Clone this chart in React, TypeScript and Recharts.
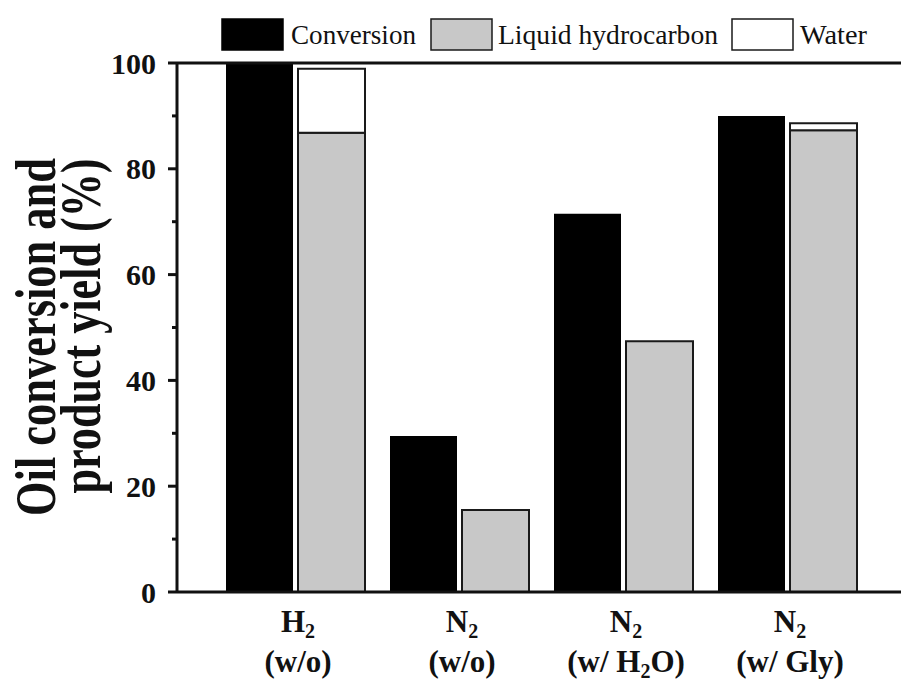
import React from 'react';
import { BarChart, Bar, XAxis, YAxis, ReferenceLine, Legend } from 'recharts';

// categories and tick labels
const categories = ['H2 (w/o)', 'N2 (w/o)', 'N2 (w/ H2O)', 'N2 (w/ Gly)'];
const gasLabels = ['H2', 'N2', 'N2', 'N2'];
const conditionLabels = ['(w/o)', '(w/o)', '(w/ H2O)', '(w/ Gly)'];

// series values (%)
const conversion = [100, 29.5, 71.5, 90.0];
const liquidHydrocarbon = [86.8, 15.5, 47.4, 87.3];
const water = [12.1, 0, 0, 1.3];

const yTicks = [0, 10, 20, 30, 40, 50, 60, 70, 80, 90, 100];
const seriesNames = ['Conversion', 'Liquid hydrocarbon', 'Water'];

const data = categories.map((category, i) => ({
  category,
  conversion: conversion[i],
  liquid: liquidHydrocarbon[i],
  water: water[i],
}));

const FONT = '"Liberation Serif", "Times New Roman", serif';
const INK = '#111';

// turns digits into subscripts (H2 -> H₂)
const withSubscripts = (s: string) => {
  const parts = s.split(/(\d)/).filter((p) => p !== '');
  let lowered = false;
  return parts.map((part, i) => {
    const isDigit = /^\d$/.test(part);
    let dy: number | undefined;
    if (isDigit && !lowered) {
      dy = 6;
      lowered = true;
    } else if (!isDigit && lowered) {
      dy = -6;
      lowered = false;
    }
    return (
      <tspan key={i} dy={dy} fontSize={isDigit ? 20 : undefined}>
        {part}
      </tspan>
    );
  });
};

const XTick = (props: any) => {
  const { x, y, payload } = props;
  const idx = categories.indexOf(payload.value);
  const common = {
    x: x + 3,
    textAnchor: 'middle' as const,
    fontFamily: FONT,
    fontWeight: 'bold',
    fontSize: 31,
    fill: INK,
  };
  return (
    <g>
      <text {...common} y={y + 40}>
        {withSubscripts(gasLabels[idx])}
      </text>
      <text {...common} y={y + 80}>
        {withSubscripts(conditionLabels[idx])}
      </text>
    </g>
  );
};

const YTick = (props: any) => {
  const { x, y, payload } = props;
  const major = payload.value % 20 === 0;
  return (
    <g>
      <line
        x1={major ? x + 9 : x + 13}
        x2={x + 18}
        y1={y}
        y2={y}
        stroke={INK}
        strokeWidth={3}
      />
      {major && (
        <text
          x={x - 3}
          y={y}
          dy="0.35em"
          textAnchor="end"
          fontFamily={FONT}
          fontWeight="bold"
          fontSize={30}
          fill={INK}
        >
          {payload.value}
        </text>
      )}
    </g>
  );
};

const YTitle = () => (
  <g fontFamily={FONT} fontWeight="bold" fontSize={58} fill={INK}>
    <text
      transform="translate(55,337) rotate(-90)"
      textAnchor="middle"
      textLength={358}
      lengthAdjust="spacingAndGlyphs"
    >
      Oil conversion and
    </text>
    <text
      transform="translate(100,326) rotate(-90)"
      textAnchor="middle"
      textLength={335}
      lengthAdjust="spacingAndGlyphs"
    >
      product yield (%)
    </text>
  </g>
);

const legendItems = [
  { fill: '#000', stroke: '#000', box: 222, text: 291, len: 125 },
  { fill: '#c8c8c8', stroke: '#1a1a1a', box: 431, text: 498, len: 220 },
  { fill: '#fff', stroke: '#1a1a1a', box: 732, text: 800, len: 67 },
];

const LegendContent = () => (
  <svg width={901} height={60}>
    {legendItems.map((item, i) => (
      <g key={seriesNames[i]}>
        <rect x={item.box} y={19} width={61} height={31} fill={item.fill} stroke={item.stroke} strokeWidth={1.5} />
        <text
          x={item.text}
          y={44}
          fontFamily={FONT}
          fontSize={27}
          fill={INK}
          textLength={item.len}
          lengthAdjust="spacingAndGlyphs"
        >
          {seriesNames[i]}
        </text>
      </g>
    ))}
  </svg>
);

export default function App() {
  return (
    <div
      style={{
        position: 'absolute',
        left: 0,
        top: 0,
        width: 901,
        height: 682,
        overflow: 'hidden',
        background: '#fff',
      }}
    >
      <BarChart
        width={910}
        height={682}
        data={data}
        margin={{ top: 63, right: 0, bottom: 0, left: 0 }}
        barGap={5}
        barSize={67}
      >
        <XAxis
          dataKey="category"
          height={90}
          padding={{ left: 36, right: 41 }}
          axisLine={{ stroke: INK, strokeWidth: 3 }}
          tickLine={false}
          tickSize={0}
          tickMargin={0}
          tick={<XTick />}
          interval={0}
        />
        <YAxis
          width={177}
          domain={[0, 100]}
          ticks={yTicks}
          interval={0}
          axisLine={{ stroke: INK, strokeWidth: 3 }}
          tickLine={false}
          tickSize={9}
          tickMargin={9}
          tick={<YTick />}
          label={{ content: () => <YTitle /> }}
        />
        <Legend
          layout="horizontal"
          verticalAlign="middle"
          align="center"
          wrapperStyle={{ top: 0, left: 0, width: 901, height: 60 }}
          content={() => <LegendContent />}
        />
        <Bar
          dataKey="conversion"
          name={seriesNames[0]}
          stackId="conversion"
          fill="#000"
          isAnimationActive={false}
        />
        <Bar
          dataKey="liquid"
          name={seriesNames[1]}
          stackId="products"
          fill="#c8c8c8"
          stroke="#1a1a1a"
          strokeWidth={2}
          isAnimationActive={false}
        />
        <Bar
          dataKey="water"
          name={seriesNames[2]}
          stackId="products"
          fill="#fff"
          stroke="#1a1a1a"
          strokeWidth={2}
          isAnimationActive={false}
        />
        <ReferenceLine y={100} stroke={INK} strokeWidth={3} />
      </BarChart>
    </div>
  );
}
